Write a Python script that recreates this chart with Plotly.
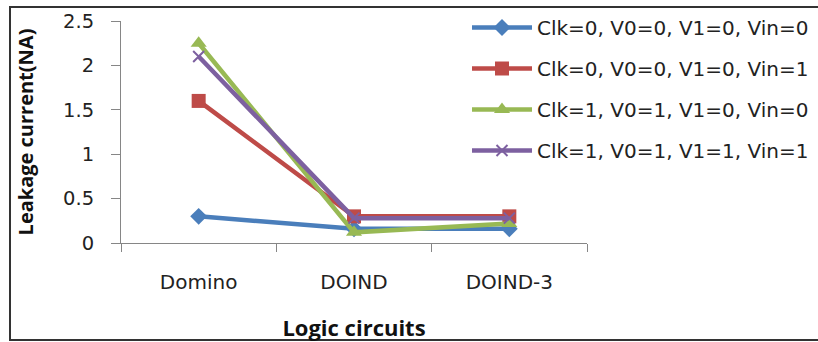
import plotly.graph_objects as go

categories = ["Domino", "DOIND", "DOIND-3"]
series_names = [
    "Clk=0, V0=0, V1=0, Vin=0",
    "Clk=0, V0=0, V1=0, Vin=1",
    "Clk=1, V0=1, V1=0, Vin=0",
    "Clk=1, V0=1, V1=1, Vin=1",
]
s1 = [0.30, 0.16, 0.16]
s2 = [1.60, 0.30, 0.30]
s3 = [2.25, 0.12, 0.22]
s4 = [2.10, 0.28, 0.28]
y_ticks = [0, 0.5, 1, 1.5, 2, 2.5]
y_tick_text = ["0", "0.5", "1", "1.5", "2", "2.5"]

colors = ["#4A7EBB", "#BE4B48", "#98B954", "#7D60A0"]
symbols = ["diamond", "square", "triangle-up", "x-thin-open"]
sizes = [13, 14, 14, 11]

fig = go.Figure()
for i, (name, vals) in enumerate(zip(series_names, [s1, s2, s3, s4])):
    fig.add_trace(go.Scatter(
        x=categories, y=vals, name=name, mode="lines+markers",
        line=dict(color=colors[i], width=4.5),
        marker=dict(symbol=symbols[i], size=sizes[i], color=colors[i],
                    line=dict(color=colors[i], width=2 if i == 3 else 0)),
        legendgroup=str(i),
    ))
# helper (empty) trace so the tick-only overlay axis is drawn
fig.add_trace(go.Scatter(x=[], y=[], yaxis="y2", showlegend=False,
                         hoverinfo="skip"))

W, H = 818, 342
L, R, T, B = 121, 231, 21, 99
pw, ph = W - L - R, H - T - B

def px(x):
    return (x - L) / pw

def py(y):
    return (H - B - y) / ph

FONT = "DejaVu Sans"

fig.update_layout(
    width=W, height=H,
    margin=dict(l=L, r=R, t=T, b=B, autoexpand=False),
    paper_bgcolor="white", plot_bgcolor="white",
    font=dict(family=FONT, size=19, color="#222"),
    showlegend=True,
    legend=dict(x=px(467), y=py(8), xanchor="left", yanchor="top",
                font=dict(family=FONT, size=20, color="#222"),
                tracegroupgap=12,
                bgcolor="rgba(0,0,0,0)", itemwidth=60),
    xaxis=dict(
        type="category", range=[-0.5, 2.5], showgrid=False, showline=True,
        automargin=False,
        linecolor="#868686", linewidth=1, ticks="outside", ticklen=8,
        tickcolor="#868686", tickson="boundaries", ticklabelstandoff=21,
        tickfont=dict(family=FONT, size=20, color="#222"),
        title=dict(text="<b>Logic circuits</b>", standoff=30,
                   font=dict(family="Open Sans", size=22, color="#111")),
    ),
    yaxis=dict(
        range=[0, 2.5], tickvals=y_ticks, ticktext=y_tick_text,
        automargin=False,
        showgrid=False, showline=True, linecolor="#868686", linewidth=1,
        ticks="outside", ticklen=22, tickcolor="rgba(0,0,0,0)",
        tickfont=dict(family=FONT, size=19.5, color="#222"),
        zeroline=False,
    ),
    yaxis2=dict(
        range=[0, 2.5], tickvals=y_ticks, overlaying="y", side="left",
        automargin=False, showgrid=False, showline=False, zeroline=False,
        ticks="outside", ticklen=9, tickcolor="#868686",
        showticklabels=False,
        title=dict(text="<b>Leakage current(NA)</b>", standoff=72,
                   font=dict(family="Open Sans", size=20, color="#111")),
    ),
    shapes=[dict(type="rect", xref="paper", yref="paper",
                 x0=px(10), x1=px(830), y0=py(340), y1=py(7),
                 line=dict(color="#333", width=2), layer="below")],
)

fig.write_html("out.html")
